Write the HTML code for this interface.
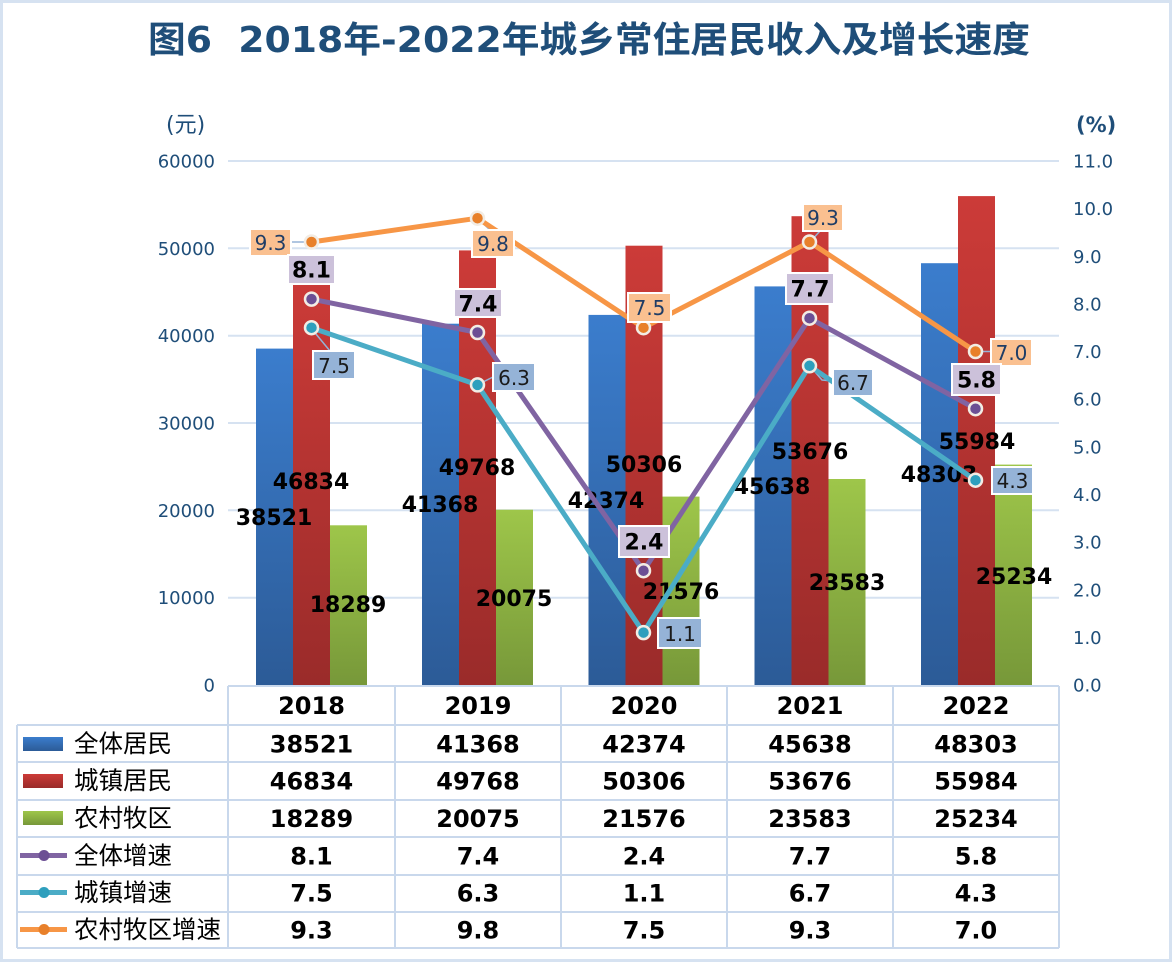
<!DOCTYPE html>
<html><head><meta charset="utf-8"><style>
html,body{margin:0;padding:0;background:#fff;}
svg{display:block;}
.ax{font-family:"DejaVu Sans","Liberation Sans",sans-serif;font-size:18px;fill:#1f4e79;}
.bl{font-family:"DejaVu Sans","Liberation Sans",sans-serif;font-size:22px;font-weight:bold;fill:#000;}
.tb{font-family:"DejaVu Sans","Liberation Sans",sans-serif;font-size:24px;font-weight:bold;fill:#000;}
.lg{font-family:"Liberation Sans","Noto Sans CJK SC",sans-serif;font-size:24.5px;fill:#000;}
.ln{font-family:"DejaVu Sans","Liberation Sans",sans-serif;font-size:20px;fill:#1f3d66;}
.lb{font-family:"DejaVu Sans","Liberation Sans",sans-serif;font-size:22px;font-weight:bold;fill:#000;}
</style></head><body>
<svg width="1172" height="962" viewBox="0 0 1172 962" xmlns="http://www.w3.org/2000/svg">
<defs>
<linearGradient id="gb" x1="0" y1="0" x2="0" y2="1"><stop offset="0" stop-color="#3b7dcd"/><stop offset="1" stop-color="#2c5b97"/></linearGradient>
<linearGradient id="gr" x1="0" y1="0" x2="0" y2="1"><stop offset="0" stop-color="#cc3b38"/><stop offset="1" stop-color="#9a2b2a"/></linearGradient>
<linearGradient id="gg" x1="0" y1="0" x2="0" y2="1"><stop offset="0" stop-color="#9ec64a"/><stop offset="1" stop-color="#779839"/></linearGradient>
</defs>
<rect x="1.5" y="1.5" width="1169" height="959" fill="#fff" stroke="#d6e2f1" stroke-width="3"/>
<text x="148" y="52" font-family="'DejaVu Sans','Noto Sans CJK SC',sans-serif" font-size="36" font-weight="bold" fill="#1f4e79" textLength="882" lengthAdjust="spacingAndGlyphs" xml:space="preserve">图6  2018年-2022年城乡常住居民收入及增长速度</text>
<text x="166" y="132" font-family="'DejaVu Sans','Noto Sans CJK SC',sans-serif" font-size="22" fill="#1f4e79">(元)</text>
<text x="1076" y="132" font-family="'DejaVu Sans',sans-serif" font-size="21" font-weight="bold" fill="#1f4e79">(%)</text>
<!-- gridlines -->
<g stroke="#d6e2f1" stroke-width="2">
<line x1="228" y1="161" x2="1059" y2="161"/>
<line x1="228" y1="248.3" x2="1059" y2="248.3"/>
<line x1="228" y1="335.7" x2="1059" y2="335.7"/>
<line x1="228" y1="423" x2="1059" y2="423"/>
<line x1="228" y1="510.3" x2="1059" y2="510.3"/>
<line x1="228" y1="597.7" x2="1059" y2="597.7"/>
</g>
<!-- left axis -->
<g class="ax" text-anchor="end">
<text x="215" y="167.5">60000</text>
<text x="215" y="254.8">50000</text>
<text x="215" y="342.2">40000</text>
<text x="215" y="429.5">30000</text>
<text x="215" y="516.8">20000</text>
<text x="215" y="604.2">10000</text>
<text x="215" y="691.5">0</text>
</g>
<g class="ax">
<text x="1073" y="167.5">11.0</text>
<text x="1073" y="215.1">10.0</text>
<text x="1073" y="262.8">9.0</text>
<text x="1073" y="310.4">8.0</text>
<text x="1073" y="358.1">7.0</text>
<text x="1073" y="405.7">6.0</text>
<text x="1073" y="453.3">5.0</text>
<text x="1073" y="501">4.0</text>
<text x="1073" y="548.6">3.0</text>
<text x="1073" y="596.3">2.0</text>
<text x="1073" y="643.9">1.0</text>
<text x="1073" y="691.5">0.0</text>
</g>
<!-- bars -->
<g>
<rect x="256" y="348.6" width="37" height="336.4" fill="url(#gb)"/>
<rect x="293" y="276" width="37" height="409" fill="url(#gr)"/>
<rect x="330" y="525.3" width="37" height="159.7" fill="url(#gg)"/>
<rect x="422" y="323.7" width="37" height="361.3" fill="url(#gb)"/>
<rect x="459" y="250.4" width="37" height="434.6" fill="url(#gr)"/>
<rect x="496" y="509.7" width="37" height="175.3" fill="url(#gg)"/>
<rect x="588.5" y="314.9" width="37" height="370.1" fill="url(#gb)"/>
<rect x="625.5" y="245.7" width="37" height="439.3" fill="url(#gr)"/>
<rect x="662.5" y="496.6" width="37" height="188.4" fill="url(#gg)"/>
<rect x="754.5" y="286.4" width="37" height="398.6" fill="url(#gb)"/>
<rect x="791.5" y="216.2" width="37" height="468.8" fill="url(#gr)"/>
<rect x="828.5" y="479" width="37" height="206" fill="url(#gg)"/>
<rect x="921" y="263.2" width="37" height="421.8" fill="url(#gb)"/>
<rect x="958" y="196.1" width="37" height="488.9" fill="url(#gr)"/>
<rect x="995" y="464.6" width="37" height="220.4" fill="url(#gg)"/>
</g>
<!-- bar labels -->
<g class="bl" text-anchor="middle">
<text x="274" y="525">38521</text>
<text x="311" y="489">46834</text>
<text x="348" y="612">18289</text>
<text x="440" y="512">41368</text>
<text x="477" y="475">49768</text>
<text x="514" y="606">20075</text>
<text x="606" y="508">42374</text>
<text x="644" y="472">50306</text>
<text x="681" y="599">21576</text>
<text x="772" y="494">45638</text>
<text x="810" y="459">53676</text>
<text x="847" y="590">23583</text>
<text x="939" y="482">48303</text>
<text x="977" y="449">55984</text>
<text x="1014" y="584">25234</text>
</g>
<!-- leader lines -->
<g stroke="#95b3d7" stroke-width="1.5" fill="none">
<line x1="291" y1="242" x2="311" y2="242"/>
<line x1="311" y1="328" x2="330" y2="351"/>
<line x1="477" y1="385" x2="493" y2="377"/>
<line x1="810" y1="242" x2="820" y2="231"/>
<polyline points="810,366 822,380 833,381"/>
<line x1="976" y1="351.5" x2="991" y2="351.5"/>
<line x1="477" y1="218" x2="490" y2="230"/>
</g>
<!-- lines -->
<g fill="none" stroke-width="5" stroke-linejoin="round">
<polyline stroke="#f79646" points="311.5,242 477.5,218.2 643.5,327.7 809.5,242 975.5,351.5"/>
<polyline stroke="#8064a2" points="311.5,299.1 477.5,332.5 643.5,570.7 809.5,318.2 975.5,408.7"/>
<polyline stroke="#4bacc6" points="311.5,327.7 477.5,384.9 643.5,632.6 809.5,365.8 975.5,480.2"/>
</g>
<g stroke="#f2ece4" stroke-width="2.5">
<g fill="#e8802a">
<circle cx="311.5" cy="242" r="6.5"/><circle cx="477.5" cy="218.2" r="6.5"/><circle cx="643.5" cy="327.7" r="6.5"/><circle cx="809.5" cy="242" r="6.5"/><circle cx="975.5" cy="351.5" r="6.5"/>
</g>
<g fill="#6c4f94">
<circle cx="311.5" cy="299.1" r="6.5"/><circle cx="477.5" cy="332.5" r="6.5"/><circle cx="643.5" cy="570.7" r="6.5"/><circle cx="809.5" cy="318.2" r="6.5"/><circle cx="975.5" cy="408.7" r="6.5"/>
</g>
<g fill="#2e9fbd">
<circle cx="311.5" cy="327.7" r="6.5"/><circle cx="477.5" cy="384.9" r="6.5"/><circle cx="643.5" cy="632.6" r="6.5"/><circle cx="809.5" cy="365.8" r="6.5"/><circle cx="975.5" cy="480.2" r="6.5"/>
</g>
</g>
<!-- line labels -->
<g stroke="#fff" stroke-width="2">
<rect x="250" y="229" width="41" height="27" fill="#fac090"/>
<rect x="472" y="230" width="42" height="27" fill="#fac090"/>
<rect x="628" y="293" width="43" height="29" fill="#fac090"/>
<rect x="803" y="204" width="40" height="27" fill="#fac090"/>
<rect x="991" y="339" width="41" height="27" fill="#fac090"/>
<rect x="288" y="255" width="47" height="29" fill="#ccc1da"/>
<rect x="454" y="289" width="48" height="28" fill="#ccc1da"/>
<rect x="619" y="526" width="50" height="31" fill="#ccc1da"/>
<rect x="786" y="273" width="48" height="31" fill="#ccc1da"/>
<rect x="952" y="364" width="49" height="31" fill="#ccc1da"/>
<rect x="313" y="351" width="42" height="28" fill="#95b3d7"/>
<rect x="493" y="363" width="42" height="28" fill="#95b3d7"/>
<rect x="658" y="618" width="44" height="30" fill="#95b3d7"/>
<rect x="833" y="369" width="40" height="27" fill="#95b3d7"/>
<rect x="992" y="467" width="41" height="27" fill="#95b3d7"/>
</g>
<g class="ln" text-anchor="middle">
<text x="270.5" y="250">9.3</text>
<text x="493" y="251">9.8</text>
<text x="649.5" y="315">7.5</text>
<text x="823" y="225">9.3</text>
<text x="1011.5" y="360">7.0</text>
<text x="334" y="373" fill="#1a1a1a">7.5</text>
<text x="514" y="385" fill="#1a1a1a">6.3</text>
<text x="680" y="641" fill="#1a1a1a">1.1</text>
<text x="853" y="390" fill="#1a1a1a">6.7</text>
<text x="1012.5" y="488" fill="#1a1a1a">4.3</text>
</g>
<g class="lb" text-anchor="middle">
<text x="311.5" y="277.5">8.1</text>
<text x="478" y="311.5">7.4</text>
<text x="644" y="549.5">2.4</text>
<text x="810" y="296.5">7.7</text>
<text x="976.5" y="387.5">5.8</text>
</g>
<!-- table -->
<g stroke="#c9d8ec" stroke-width="2" fill="none">
<line x1="228" y1="686" x2="1059" y2="686"/>
<line x1="17" y1="725" x2="1059" y2="725"/>
<line x1="17" y1="762" x2="1059" y2="762"/>
<line x1="17" y1="800" x2="1059" y2="800"/>
<line x1="17" y1="837" x2="1059" y2="837"/>
<line x1="17" y1="875" x2="1059" y2="875"/>
<line x1="17" y1="912" x2="1059" y2="912"/>
<line x1="17" y1="948" x2="1059" y2="948"/>
<line x1="17" y1="725" x2="17" y2="948"/>
<line x1="228" y1="686" x2="228" y2="948"/>
<line x1="395" y1="686" x2="395" y2="948"/>
<line x1="561" y1="686" x2="561" y2="948"/>
<line x1="727" y1="686" x2="727" y2="948"/>
<line x1="893" y1="686" x2="893" y2="948"/>
<line x1="1059" y1="686" x2="1059" y2="948"/>
</g>
<!-- legend -->
<rect x="23" y="737" width="40" height="14" fill="url(#gb)"/>
<rect x="23" y="774" width="40" height="14" fill="url(#gr)"/>
<rect x="23" y="811" width="40" height="14" fill="url(#gg)"/>
<g stroke-width="5">
<line x1="20" y1="855.5" x2="67" y2="855.5" stroke="#8064a2"/>
<line x1="20" y1="892.5" x2="67" y2="892.5" stroke="#4bacc6"/>
<line x1="20" y1="929.5" x2="67" y2="929.5" stroke="#f79646"/>
</g>
<circle cx="44" cy="855.5" r="5.5" fill="#6c4f94"/>
<circle cx="44" cy="892.5" r="5.5" fill="#2e9fbd"/>
<circle cx="44" cy="929.5" r="5.5" fill="#e8802a"/>
<g class="lg">
<text x="74" y="752">全体居民</text>
<text x="74" y="789">城镇居民</text>
<text x="74" y="826.5">农村牧区</text>
<text x="74" y="864">全体增速</text>
<text x="74" y="901">城镇增速</text>
<text x="74" y="938">农村牧区增速</text>
</g>
<g class="tb" text-anchor="middle">
<text x="311.5" y="714">2018</text><text x="478" y="714">2019</text><text x="644" y="714">2020</text><text x="810" y="714">2021</text><text x="976" y="714">2022</text>
<text x="311.5" y="752.5">38521</text><text x="478" y="752.5">41368</text><text x="644" y="752.5">42374</text><text x="810" y="752.5">45638</text><text x="976" y="752.5">48303</text>
<text x="311.5" y="789.5">46834</text><text x="478" y="789.5">49768</text><text x="644" y="789.5">50306</text><text x="810" y="789.5">53676</text><text x="976" y="789.5">55984</text>
<text x="311.5" y="827">18289</text><text x="478" y="827">20075</text><text x="644" y="827">21576</text><text x="810" y="827">23583</text><text x="976" y="827">25234</text>
<text x="311.5" y="864.5">8.1</text><text x="478" y="864.5">7.4</text><text x="644" y="864.5">2.4</text><text x="810" y="864.5">7.7</text><text x="976" y="864.5">5.8</text>
<text x="311.5" y="901.5">7.5</text><text x="478" y="901.5">6.3</text><text x="644" y="901.5">1.1</text><text x="810" y="901.5">6.7</text><text x="976" y="901.5">4.3</text>
<text x="311.5" y="938.5">9.3</text><text x="478" y="938.5">9.8</text><text x="644" y="938.5">7.5</text><text x="810" y="938.5">9.3</text><text x="976" y="938.5">7.0</text>
</g>
</svg>
</body></html>
